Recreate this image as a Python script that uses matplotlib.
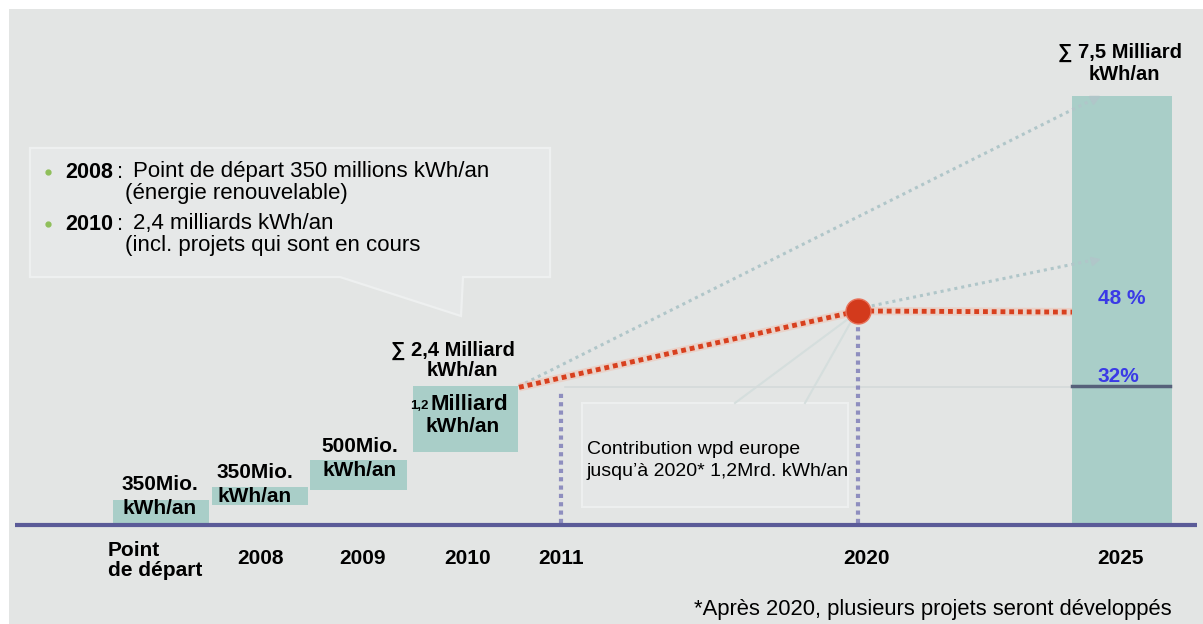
import matplotlib
matplotlib.use("Agg")
import matplotlib.pyplot as plt
from matplotlib.patches import Rectangle, Polygon
from matplotlib.markers import MarkerStyle
from matplotlib.transforms import Affine2D
import numpy as np

plt.rcParams['font.family'] = ['Liberation Sans', 'DejaVu Sans']

# ---------------- data (values in milliard kWh / an) ----------------
categories = ["Point\nde départ", "2008", "2009", "2010", "2011", "2020", "2025"]
step_labels = ["350Mio.", "350Mio.", "500Mio.", "1,2 Milliard"]
step_bottom = [0.0, 0.32, 0.58, 1.25]
step_height = [0.40, 0.31, 0.53, 1.15]
total_2010 = 2.4
total_2025 = 7.5
share_2025_low = 2.4        # 32 %
share_2025_high = 3.7       # 48 %
red_path = [2.38, 3.72, 3.70]        # end of 2010 -> 2020 -> 2025
grey_arrow_1 = [2.40, 7.45]
grey_arrow_2 = [3.76, 4.62]
vline_2011 = 2.33
vline_2020 = 3.55
pct_labels = ["32%", "48 %"]

# ---------------- layout helpers (pixel layout -> axes units) --------
W, H = 1203, 624
BASE = 523.0
SCALE = 57.0


def X(px):
    return px / 100.0


def Y(py):
    return (BASE - py) / SCALE


fig = plt.figure(figsize=(W / 100, H / 100), dpi=100)
fig.patch.set_facecolor('white')
ax = fig.add_axes([0, 0, 1, 1])
ax.set_xlim(0, W / 100)
ax.set_ylim(Y(H), Y(0))
ax.set_facecolor('none')
ax.axis('off')

BG = '#e3e5e4'
TEAL = '#a9cec8'
fig.add_artist(Rectangle((9 / W, 0), 1 - 9 / W, 1 - 9 / H, transform=fig.transFigure,
                         facecolor=BG, edgecolor='none', zorder=-5))

# ---------------- callout 1 ----------------
c1 = [(30, 148), (550, 148), (550, 277), (463, 277), (461, 316), (340, 277), (30, 277)]
ax.add_patch(Polygon([(X(a), Y(b)) for a, b in c1], closed=True, facecolor='#e6e8e8',
                     edgecolor='#eef0f0', lw=1.6, zorder=1))
for yy in (172, 224):
    ax.plot(X(48), Y(yy), 'o', color='#8fbf5a', ms=3.5, zorder=3)
FS1 = 16
ax.text(X(65), Y(172), "2008", fontsize=15.5, fontweight='bold', va='center', ha='left', zorder=4)
ax.text(X(117), Y(172), ":", fontsize=FS1, va='center', ha='left', zorder=4)
ax.text(X(133), Y(172), "Point de départ 350 millions kWh/an", fontsize=FS1, va='center', ha='left', zorder=4)
ax.text(X(125), Y(193), "(énergie renouvelable)", fontsize=FS1, va='center', ha='left', zorder=4)
ax.text(X(65), Y(224), "2010", fontsize=15.5, fontweight='bold', va='center', ha='left', zorder=4)
ax.text(X(117), Y(224), ":", fontsize=FS1, va='center', ha='left', zorder=4)
ax.text(X(133), Y(224), "2,4 milliards kWh/an", fontsize=FS1, va='center', ha='left', zorder=4)
ax.text(X(125), Y(245), "(incl. projets qui sont en cours", fontsize=FS1, va='center', ha='left', zorder=4)

# ---------------- callout 2 ----------------
ax.add_patch(Rectangle((X(582), Y(507)), X(848) - X(582), Y(403) - Y(507), facecolor='#e5e7e7',
                       edgecolor='#edefef', lw=1.5, zorder=1))
ax.plot([X(735), X(852)], [Y(403), Y(316)], color='#d5dedd', lw=1.5, zorder=1)
ax.plot([X(805), X(852)], [Y(403), Y(320)], color='#d5dedd', lw=1.5, zorder=1)
ax.plot([X(565), X(1072)], [share_2025_low - 0.02] * 2, color='#d4dada', lw=1.2, zorder=1)
ax.text(X(587), Y(450), "Contribution wpd europe", fontsize=14, va='center', ha='left', zorder=4)
ax.text(X(587), Y(472), "jusqu’à 2020* 1,2Mrd. kWh/an", fontsize=14, va='center', ha='left', zorder=4)

# ---------------- step bars ----------------
step_x = [X(161), X(260), X(358.5), X(465.5)]
step_w = [X(97), X(96), X(97), X(105)]
ax.bar(step_x, step_height, width=step_w, bottom=step_bottom, color=TEAL, zorder=2)

# 2025 bar
x2025 = X(1122)
ax.bar([x2025], [total_2025], width=X(100), bottom=0, color=TEAL, zorder=2)
ax.plot([X(1072), X(1170)], [share_2025_low, share_2025_low], color='#56617a', lw=2.5, zorder=3)

# ---------------- baseline ----------------
ax.plot([X(15), X(1197)], [-0.035, -0.035], color='#5b5b98', lw=3, zorder=5, solid_capstyle='butt')

# ---------------- vertical dotted lines ----------------
x2011, x2020 = X(561), X(858)
ax.plot([x2011, x2011], [0, vline_2011], color='#8e8ebf', lw=3, ls=(0, (1, 1)), zorder=3)
ax.plot([x2020, x2020], [0, vline_2020], color='#8e8ebf', lw=3, ls=(0, (1, 1)), zorder=3)

# ---------------- grey dotted arrows ----------------
xr = X(519)
xa = X(1095)


def arrow_line(x0, y0, x1, y1):
    ax.plot([x0, x1], [y0, y1], color='#b0c6c9', lw=2.2, ls=(0, (1, 1.3)), zorder=3)
    p0 = ax.transData.transform((x0, y0))
    p1 = ax.transData.transform((x1, y1))
    ang = np.degrees(np.arctan2(p1[1] - p0[1], p1[0] - p0[0]))
    m = MarkerStyle('>', transform=Affine2D().rotate_deg(ang))
    ax.plot([x1], [y1], marker=m, color='#b0c6c9', ms=6, zorder=3)


arrow_line(xr, grey_arrow_1[0], xa, grey_arrow_1[1])
arrow_line(x2020, grey_arrow_2[0], xa, grey_arrow_2[1])

# ---------------- red dotted path ----------------
rx = [xr, x2020, X(1072)]
ax.plot(rx, red_path, color='#f0c0b0', lw=6, alpha=0.5, zorder=4, solid_capstyle='butt')
ax.plot(rx, red_path, color='#d8401e', lw=3.5, ls=(0, (1, 0.8)), zorder=4)
ax.plot([x2020], [red_path[1]], 'o', color='#d33a1c', ms=18, zorder=6,
        markeredgecolor='#e8725a', markeredgewidth=1)

# ---------------- bar labels ----------------
BOLD = dict(fontweight='bold', ha='center', va='center', zorder=6)
ax.text(X(160), Y(485), step_labels[0], fontsize=15, **BOLD)
ax.text(X(160), Y(508), "kWh/an", fontsize=15, **BOLD)
ax.text(X(255), Y(472), step_labels[1], fontsize=15, **BOLD)
ax.text(X(255), Y(496), "kWh/an", fontsize=15, **BOLD)
ax.text(X(360), Y(447), step_labels[2], fontsize=15, **BOLD)
ax.text(X(360), Y(471), "kWh/an", fontsize=15, **BOLD)
num, word = step_labels[3].split(" ")
ax.text(X(428.5), Y(406), num, fontsize=9.5, fontweight='bold', ha='right', va='center', zorder=6)
ax.text(X(430), Y(404), word, fontsize=16, fontweight='bold', ha='left', va='center', zorder=6)
ax.text(X(463), Y(426), "kWh/an", fontsize=15, **BOLD)

ax.text(X(453), Y(350), "∑ 2,4 Milliard", fontsize=14.5, **BOLD)
ax.text(X(462), Y(371), "kWh/an", fontsize=14.5, **BOLD)
ax.text(X(1120), Y(52), "∑ 7,5 Milliard", fontsize=14.5, **BOLD)
ax.text(X(1124), Y(74), "kWh/an", fontsize=14.5, **BOLD)

BLUE = '#3a3ae6'
ax.text(X(1122), Y(298), pct_labels[1], fontsize=15, color=BLUE, fontweight='bold', ha='center', va='center', zorder=6)
ax.text(X(1118), Y(377), pct_labels[0], fontsize=15, color=BLUE, fontweight='bold', ha='center', va='center', zorder=6)

# ---------------- category labels ----------------
cat_x = [X(108), X(260), X(363), X(468), X(561), X(866), X(1120)]
ax.text(cat_x[0], Y(551), categories[0].split("\n")[0], fontsize=15, fontweight='bold', ha='left', va='center')
ax.text(cat_x[0], Y(571), categories[0].split("\n")[1], fontsize=15, fontweight='bold', ha='left', va='center')
for xc, lab in zip(cat_x[1:], categories[1:]):
    ax.text(xc, Y(558), lab, fontsize=15, fontweight='bold', ha='center', va='center')

# footnote
ax.text(X(1172), Y(610), "*Après 2020, plusieurs projets seront développés", fontsize=15.8,
        ha='right', va='center')

fig.savefig("out.png", dpi=100)
